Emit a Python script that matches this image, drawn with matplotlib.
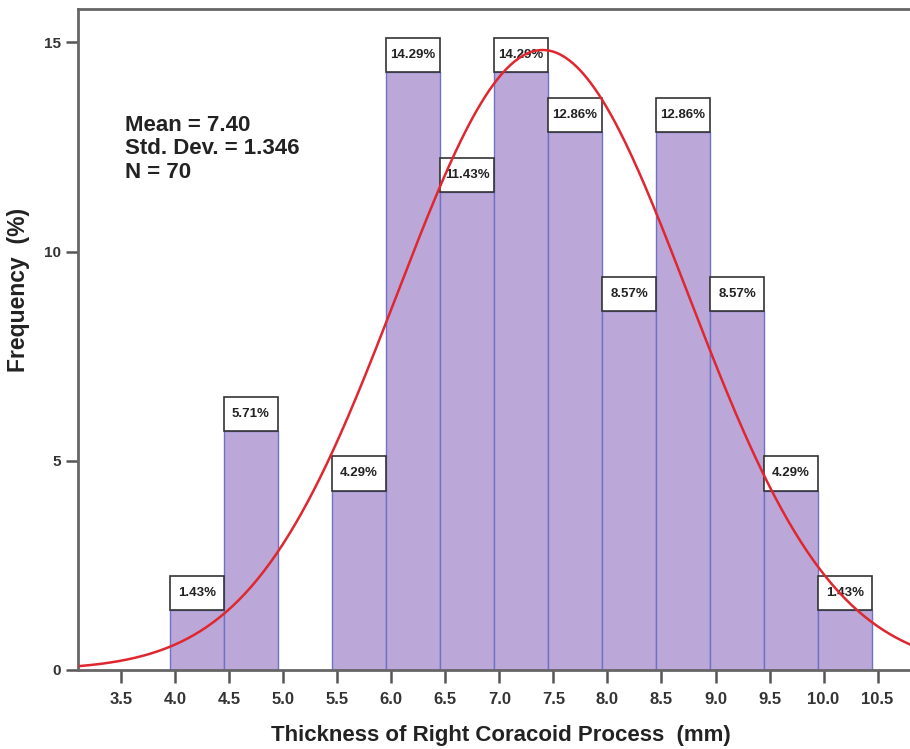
import numpy as np
import matplotlib
matplotlib.use("Agg")
import matplotlib.pyplot as plt

# Histogram of right coracoid process thickness (percent per 0.5 mm bin)
bin_left = [3.95, 4.45, 5.45, 5.95, 6.45, 6.95, 7.45, 7.95, 8.45, 8.95, 9.45, 9.95]
percent = [1.43, 5.71, 4.29, 14.29, 11.43, 14.29, 12.86, 8.57, 12.86, 8.57, 4.29, 1.43]
bin_width = 0.5
x_ticks = [3.5, 4.0, 4.5, 5.0, 5.5, 6.0, 6.5, 7.0, 7.5, 8.0, 8.5, 9.0, 9.5, 10.0, 10.5]
y_ticks = [0, 5, 10, 15]
mean, std_dev, n_obs = 7.40, 1.346, 70

plt.rcParams['font.family'] = ['Liberation Sans', 'DejaVu Sans']

fig = plt.figure(figsize=(9.10, 7.49), dpi=100)
ax = fig.add_axes([0.0857, 0.1055, 0.9143, 0.8825])

bar_face = '#BBA8D8'
bar_edge = '#6F72C4'
ax.bar(bin_left, percent, width=bin_width, align='edge',
       color=bar_face, edgecolor=bar_edge, linewidth=1.0, zorder=2)

# Percentage boxes sitting on top of each bar
box_h = 0.82
for left, p in zip(bin_left, percent):
    ax.add_patch(plt.Rectangle((left, p), bin_width, box_h, facecolor='white',
                               edgecolor='#333333', linewidth=1.2, zorder=3))
    ax.text(left + bin_width / 2, p + box_h / 2, f"{p:.2f}%",
            ha='center', va='center', fontsize=9.5, fontweight='bold',
            family=['Liberation Sans Narrow', 'Liberation Sans'],
            color='#222222', zorder=4)

# Fitted normal curve, scaled to percent per bin
xs = np.linspace(3.12, 10.9, 400)
ys = 100 * bin_width * np.exp(-0.5 * ((xs - mean) / std_dev) ** 2) / (std_dev * np.sqrt(2 * np.pi))
ax.plot(xs, ys, color='#E0262E', linewidth=1.8, zorder=5)

ax.set_xlim(3.10, 10.80)
ax.set_ylim(0, 15.8)
ax.set_xticks(x_ticks)
ax.set_xticklabels([f"{v:.1f}" for v in x_ticks])
ax.set_yticks(y_ticks)
ax.tick_params(axis='x', direction='out', length=9, width=1.8, color='#555555',
               labelsize=12, labelcolor='#333333', pad=7)
ax.tick_params(axis='y', direction='out', length=9, width=1.8, color='#555555',
               labelsize=11, labelcolor='#333333', pad=3)
for lbl in ax.get_xticklabels() + ax.get_yticklabels():
    lbl.set_fontweight('bold')

for side in ['left', 'bottom', 'top']:
    ax.spines[side].set_color('#666666')
    ax.spines[side].set_linewidth(2.0)
ax.spines['right'].set_visible(False)

ax.set_xlabel("Thickness of Right Coracoid Process  (mm)", fontsize=16,
              fontweight='bold', color='#222222')
ax.xaxis.set_label_coords(0.508, -0.083)
ax.set_ylabel("Frequency  (%)", fontsize=16.5, fontweight='bold', color='#222222')
ax.yaxis.set_label_coords(-0.058, 0.575)

ax.text(0.057, 0.84,
        f"Mean = {mean:.2f}\nStd. Dev. = {std_dev:.3f}\nN = {n_obs}",
        transform=ax.transAxes, ha='left', va='top', fontsize=16,
        fontweight='bold', color='#222222', linespacing=1.15)

fig.savefig("out.png", dpi=100)
